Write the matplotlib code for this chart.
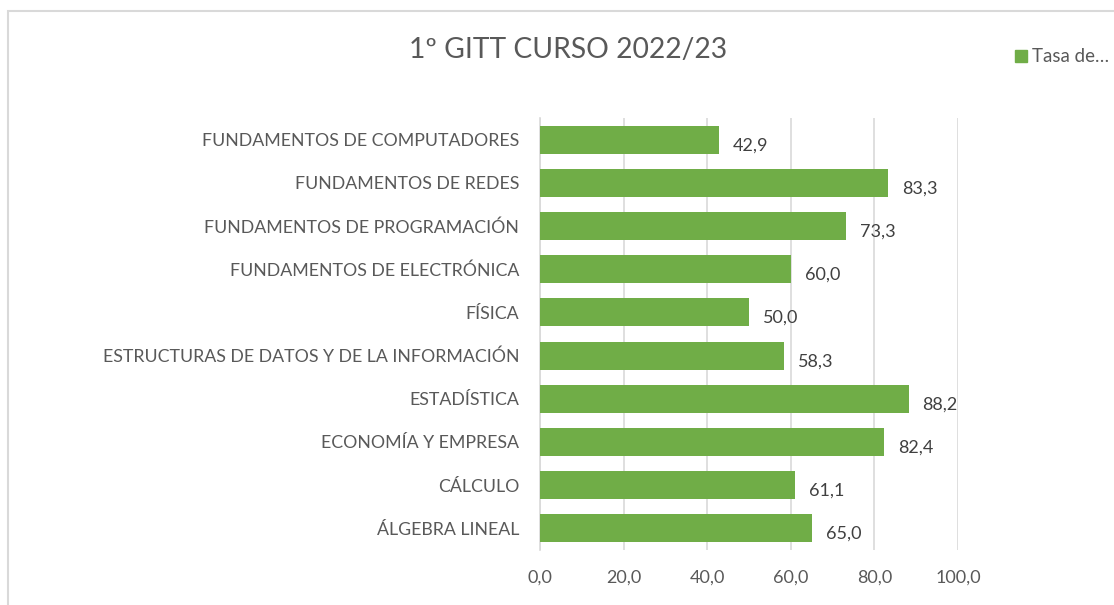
import matplotlib.pyplot as plt
import matplotlib.patches as mpatches

plt.rcParams['font.family'] = ['Lato', 'DejaVu Sans']

asignaturas = ["ÁLGEBRA LINEAL", "CÁLCULO", "ECONOMÍA Y EMPRESA", "ESTADÍSTICA",
               "ESTRUCTURAS DE DATOS Y DE LA INFORMACIÓN", "FÍSICA",
               "FUNDAMENTOS DE ELECTRÓNICA", "FUNDAMENTOS DE PROGRAMACIÓN",
               "FUNDAMENTOS DE REDES", "FUNDAMENTOS DE COMPUTADORES"]
tasa = [65.0, 61.1, 82.4, 88.2, 58.3, 50.0, 60.0, 73.3, 83.3, 42.9]
ticks_x = [0, 20, 40, 60, 80, 100]

verde = "#70AD47"
gris = "#595959"

fig = plt.figure(figsize=(11.14, 6.05), dpi=100)
ax = fig.add_axes([540 / 1114, 1 - 550 / 605, 418 / 1114, 432 / 605])

y = list(range(len(asignaturas)))
ax.barh(y, tasa, height=0.65, color=verde, zorder=3)
for yi, v in zip(y, tasa):
    ax.annotate(f"{v:.1f}".replace(".", ","), (v, yi), xytext=(10, -4),
                textcoords="offset points", va="center", ha="left",
                fontsize=13, color="#404040")

ax.set_xlim(0, 100)
ax.set_ylim(-0.5, len(asignaturas) - 0.5)
ax.set_xticks(ticks_x)
ax.set_xticklabels([f"{t:.1f}".replace(".", ",") for t in ticks_x],
                   fontsize=13, color=gris)
ax.set_yticks(y)
ax.set_yticklabels(asignaturas, fontsize=12.8, color=gris)
ax.grid(axis="x", color="#D9D9D9", linewidth=1.2, zorder=0)
for s in ["top", "right", "bottom"]:
    ax.spines[s].set_visible(False)
ax.spines["left"].set_color("#D9D9D9")
ax.spines["left"].set_linewidth(1.2)
ax.tick_params(axis="x", length=0, pad=14)
ax.tick_params(axis="y", length=0, pad=15)

fig.text(568 / 1114, 1 - 50 / 605, "1º GITT CURSO 2022/23", ha="center",
         va="center", fontsize=20.3, color=gris)

fig.patches.append(mpatches.Rectangle((1015 / 1114, 1 - 62 / 605), 12 / 1114, 12 / 605,
                                      transform=fig.transFigure, color=verde))
fig.text(1032 / 1114, 1 - 56 / 605, "Tasa de…", ha="left", va="center",
         fontsize=13.5, color=gris)

fig.patches.append(mpatches.Rectangle((8 / 1114, -0.1), 1.2, 1 - 11 / 605 + 0.1,
                                      transform=fig.transFigure, fill=False,
                                      edgecolor="#D9D9D9", linewidth=1.5))

fig.savefig("out.png", dpi=100)
